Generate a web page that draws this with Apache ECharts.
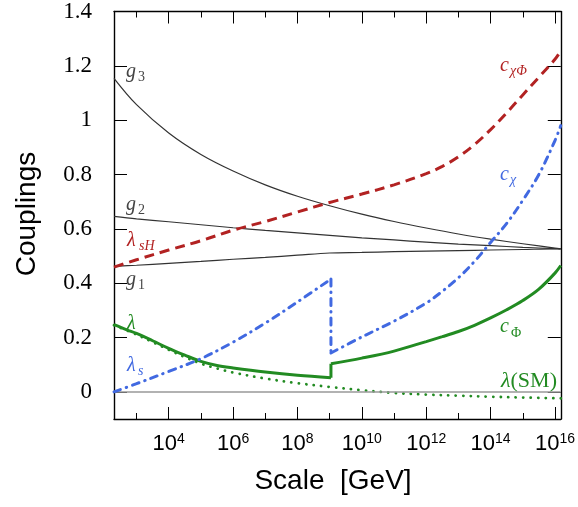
<!DOCTYPE html>
<html>
<head>
<meta charset="utf-8">
<script src="https://cdn.jsdelivr.net/npm/echarts@6/dist/echarts.min.js"></script>
<style>
html,body{margin:0;padding:0;background:#fff;}
#chart{width:578px;height:507px;}
</style>
</head>
<body>
<div id="chart"></div>
<script>
// x values are log10(Scale / GeV)
const tGauge = [2.3, 3, 4, 5, 6, 7, 8, 9, 10, 11, 12, 13, 14, 15, 16, 16.18];
const g3 = [1.154, 1.057, 0.953, 0.874, 0.813, 0.762, 0.720, 0.685, 0.654, 0.627, 0.603, 0.581, 0.562, 0.545, 0.529, 0.526];
const g2 = [0.646, 0.637, 0.626, 0.615, 0.604, 0.594, 0.585, 0.576, 0.567, 0.559, 0.551, 0.544, 0.538, 0.532, 0.527, 0.526];
const g1 = [0.462, 0.466, 0.473, 0.480, 0.488, 0.495, 0.503, 0.511, 0.513, 0.516, 0.518, 0.520, 0.522, 0.524, 0.526, 0.526];

// lambda_sH -> c_chiPhi
const tRed = [2.3, 3, 4, 5, 6, 7, 8, 9, 10, 11, 12, 12.5, 13, 13.5, 14, 14.5, 15, 15.5, 16, 16.18];
const cChiPhi = [0.459, 0.486, 0.522, 0.556, 0.595, 0.627, 0.662, 0.697, 0.728, 0.762, 0.803, 0.830, 0.865, 0.910, 0.965, 1.027, 1.093, 1.158, 1.224, 1.255];

// lambda (below threshold) then c_Phi (above threshold)
const tLam = [2.3, 2.7, 3, 3.5, 4, 4.5, 5, 5.5, 6, 7, 8, 9.04];
const lam = [0.247, 0.228, 0.215, 0.188, 0.160, 0.135, 0.112, 0.097, 0.088, 0.073, 0.061, 0.052];
const tCPhi = [9.04, 10, 11, 12, 12.5, 13, 13.5, 14, 14.5, 15, 15.5, 16, 16.18];
const cPhi = [0.103, 0.124, 0.150, 0.185, 0.203, 0.222, 0.245, 0.272, 0.302, 0.336, 0.378, 0.437, 0.465];

// lambda (SM)
const tSM = [2.3, 3, 3.5, 4, 4.5, 5, 5.5, 6, 7, 8, 9, 10, 11, 12, 13, 14, 15, 16.18];
const lamSM = [0.245, 0.211, 0.183, 0.155, 0.128, 0.104, 0.086, 0.071, 0.049, 0.032, 0.018, 0.006, -0.004, -0.010, -0.014, -0.018, -0.021, -0.024];

// lambda_s (below threshold) then c_chi (above threshold)
const tLs = [2.3, 3, 4, 5, 6, 7, 8, 9.04];
const lamS = [0.000, 0.030, 0.075, 0.122, 0.183, 0.253, 0.331, 0.415];
const tCChi = [9.04, 10, 11, 12, 12.5, 13, 13.5, 14, 14.5, 15, 15.5, 16, 16.18];
const cChi = [0.143, 0.202, 0.260, 0.327, 0.370, 0.420, 0.480, 0.550, 0.620, 0.705, 0.800, 0.925, 0.980];

const xMajor = [4, 6, 8, 10, 12, 14, 16];
const xMinor = [3, 5, 7, 9, 11, 13, 15];
const yTicks = [0, 0.2, 0.4, 0.6, 0.8, 1, 1.2, 1.4];

const zip = (xs, ys) => xs.map((x, i) => [x, ys[i]]);
const last = a => a[a.length - 1];

const GREEN = '#228b22', RED = '#b22222', BLUE = '#4169e1', GRAY = '#333333';
const SERIF = 'Liberation Serif', SANS = 'Liberation Sans';
const SM = 0.35;

const chart = echarts.init(document.getElementById('chart'), null, {renderer: 'canvas'});

function xAx(pos, ticks, len, showLine, labels) {
  return {
    type: 'value', min: 2.3, max: 16.18, position: pos,
    axisLine: {show: showLine, onZero: false, lineStyle: {color: '#000', width: 1.4}},
    axisTick: {show: true, inside: true, length: len, customValues: ticks, lineStyle: {color: '#000', width: 1}},
    axisLabel: labels ? {
      show: true, customValues: xMajor, margin: 13,
      formatter: v => '{b|10}{s|' + v + '}',
      rich: {
        b: {fontSize: 22, fontFamily: SANS, color: '#000', lineHeight: 24},
        s: {fontSize: 14, fontFamily: SANS, color: '#000', lineHeight: 14, verticalAlign: 'top'}
      }
    } : {show: false},
    splitLine: {show: false}
  };
}
function yAx(pos, labels) {
  return {
    type: 'value', min: -0.1, max: 1.4, position: pos,
    axisLine: {show: true, onZero: false, lineStyle: {color: '#000', width: 1.4}},
    axisTick: {show: true, inside: true, length: 13, customValues: yTicks, lineStyle: {color: '#000', width: 1}},
    axisLabel: labels ? {show: true, customValues: yTicks, margin: 22, fontSize: 23, fontFamily: SERIF, color: '#000'} : {show: false},
    splitLine: {show: false}
  };
}

function lbl(x, base, text, size, color, italic) {
  return {
    type: 'text', x: x, y: base - 0.3 * size, z: 100,
    style: {text: text, fill: color, font: (italic ? 'italic ' : '') + size + 'px "' + SERIF + '"', verticalAlign: 'middle', align: 'left'}
  };
}
function line(data, style, z, smooth) {
  return {type: 'line', data: data, showSymbol: false, smooth: smooth, lineStyle: style, z: z};
}

const greenStyle = {color: GREEN, width: 3};
const blueStyle = {color: BLUE, width: 3, type: [7, 6, 0.5, 6], cap: 'round'};

const option = {
  animation: false,
  backgroundColor: '#fff',
  grid: {left: 114, right: 16, top: 9, bottom: 88, containLabel: false},
  xAxis: [
    xAx('bottom', xMajor, 12, true, true),
    xAx('bottom', xMinor, 6, false, false),
    xAx('top', xMajor, 12, true, false),
    xAx('top', xMinor, 6, false, false)
  ],
  yAxis: [yAx('left', true), yAx('right', false)],
  series: [
    line(zip(tGauge, g3), {color: GRAY, width: 1.2}, 2, SM),
    line(zip(tGauge, g2), {color: GRAY, width: 1.2}, 2, SM),
    Object.assign(line(zip(tGauge, g1), {color: GRAY, width: 1.2}, 2, SM), {
      markLine: {silent: true, symbol: 'none', label: {show: false}, lineStyle: {color: '#999', width: 1.5, type: 'solid'}, data: [{yAxis: 0}]}}),
    line(zip(tSM, lamSM), {color: GREEN, width: 2.8, type: [0.1, 7.4], cap: 'round'}, 3, SM),
    line(zip(tLam, lam), greenStyle, 4, SM),
    line([[last(tLam), last(lam)], [tCPhi[0], cPhi[0]]], greenStyle, 4, false),
    line(zip(tCPhi, cPhi), greenStyle, 4, SM),
    line(zip(tLs, lamS), blueStyle, 5, SM),
    line([[last(tLs), last(lamS)], [tCChi[0], cChi[0]]], blueStyle, 5, false),
    line(zip(tCChi, cChi), blueStyle, 5, SM),
    line(zip(tRed, cChiPhi), {color: RED, width: 3, type: [10, 6]}, 6, SM)
  ],
  graphic: [
    lbl(126, 78, 'g', 20, '#444', true), lbl(138, 82, '3', 14, '#444', false),
    lbl(126, 211, 'g', 20, '#444', true), lbl(138, 215, '2', 14, '#444', false),
    lbl(126, 286, 'g', 20, '#444', true), lbl(138, 290, '1', 14, '#444', false),
    lbl(127, 247, 'λ', 20, RED, true), lbl(139, 251, 'sH', 14, RED, true),
    lbl(127, 330, 'λ', 20, GREEN, true),
    lbl(127, 372, 'λ', 20, BLUE, true), lbl(138, 376, 's', 14, BLUE, true),
    lbl(500, 72, 'c', 20, RED, true), lbl(510, 76, 'χΦ', 14, RED, true),
    lbl(500, 181, 'c', 20, BLUE, true), lbl(510, 185, 'χ', 14, BLUE, true),
    lbl(500, 333, 'c', 20, GREEN, true), lbl(511, 338, 'Φ', 14, GREEN, false),
    {type: 'text', x: 501, y: 388 - 6.6, z: 100,
      style: {text: '{i|λ}{n|(SM)}', verticalAlign: 'middle', align: 'left',
        rich: {i: {fontSize: 22, fontFamily: SERIF, fontStyle: 'italic', fill: GREEN, color: GREEN},
               n: {fontSize: 22, fontFamily: SERIF, fill: GREEN, color: GREEN}}}},
    {type: 'text', x: 27, y: 214, rotation: Math.PI / 2, z: 100,
      style: {text: 'Couplings', font: '28px "' + SANS + '"', fill: '#000', align: 'center', verticalAlign: 'middle'}},
    {type: 'text', x: 333, y: 481, z: 100,
      style: {text: 'Scale  [GeV]', font: '28px "' + SANS + '"', fill: '#000', align: 'center', verticalAlign: 'middle'}}
  ]
};
chart.setOption(option);
</script>
</body>
</html>
